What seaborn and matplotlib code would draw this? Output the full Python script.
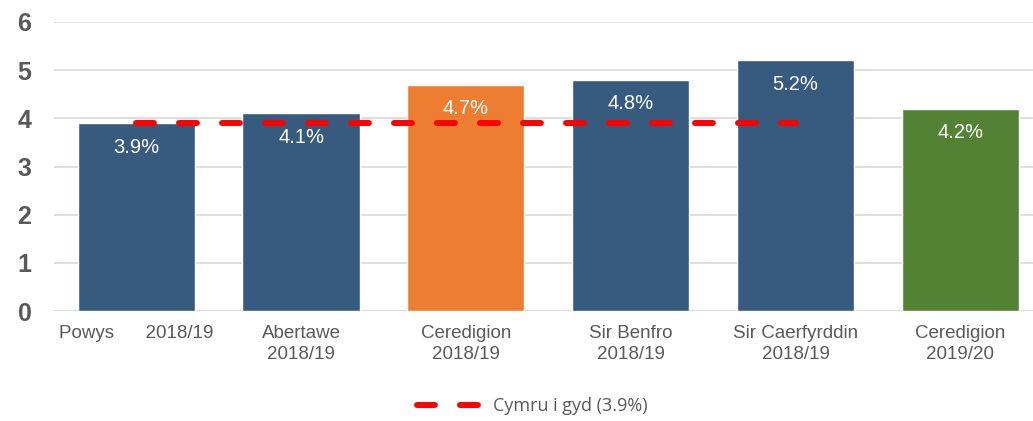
import matplotlib
matplotlib.use("Agg")
import matplotlib.pyplot as plt
import seaborn as sns
import pandas as pd

# data
categories = ["Powys      2018/19", "Abertawe\n2018/19", "Ceredigion\n2018/19",
              "Sir Benfro\n2018/19", "Sir Caerfyrddin\n2018/19", "Ceredigion\n2019/20"]
values = [3.9, 4.1, 4.7, 4.8, 5.2, 4.2]
bar_colors = ["#375A7F", "#375A7F", "#ED7D31", "#375A7F", "#375A7F", "#548235"]
wales_avg = 3.9
wales_label = "Cymru i gyd (3.9%)"
yticks = [0, 1, 2, 3, 4, 5, 6]

sns.set_style("white")
plt.rcParams['font.family'] = ['Liberation Sans', 'DejaVu Sans']

df = pd.DataFrame({"cat": categories, "val": values})

fig = plt.figure(figsize=(10.33, 4.21), dpi=100)
ax = fig.add_axes([0.052, 0.261, 0.948, 0.687])

sns.barplot(data=df, x="cat", y="val", hue="cat", palette=bar_colors,
            legend=False, width=0.71, saturation=1, ax=ax, zorder=2)

# value labels inside the bars
for i, v in enumerate(values):
    ax.text(i, v - 0.5, f"{v}%", ha="center", va="center",
            color="white", fontsize=14.5, zorder=4)

# Wales average dashed line over the first five bars
ax.plot(range(5), [wales_avg] * 5, color="#FF0000", lw=4.3,
        dashes=(3, 4.2), dash_capstyle="round", zorder=3, label=wales_label)

ax.set_ylim(0, 6)
ax.set_xlim(-0.5, 5.44)
ax.set_yticks(yticks)
ax.yaxis.grid(True, color="#D9D9D9", lw=1.2, zorder=0)
ax.set_axisbelow(True)
for s in ax.spines.values():
    s.set_visible(False)
ax.axhline(0, color="#D9D9D9", lw=1.2, zorder=1)

ax.set_xlabel("")
ax.set_ylabel("")
ax.tick_params(axis="y", length=0, pad=16, labelsize=18, labelcolor="#595959")
for t in ax.get_yticklabels():
    t.set_fontweight("bold")
ax.tick_params(axis="x", length=0, pad=10, labelsize=13.5, labelcolor="#595959")
for t in ax.get_xticklabels():
    t.set_va("top")
    t.set_linespacing(1.3)

leg = fig.legend(loc="lower center", bbox_to_anchor=(0.515, -0.025), frameon=False,
                 handlelength=3.4,
                 prop={"family": ["Open Sans", "DejaVu Sans"], "size": 13})
for t in leg.get_texts():
    t.set_color("#595959")

fig.savefig("out.png", dpi=100)
